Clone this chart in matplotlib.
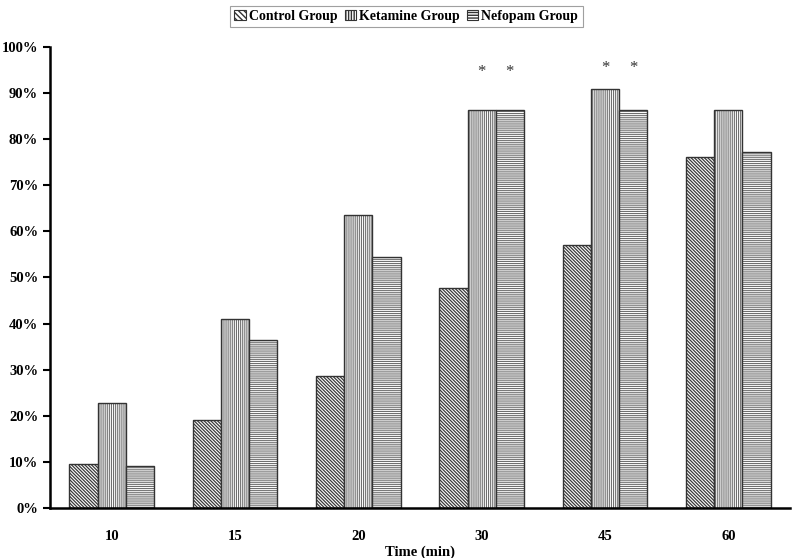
import matplotlib
matplotlib.use("Agg")
import matplotlib.pyplot as plt
import numpy as np

categories = ["10", "15", "20", "30", "45", "60"]
series_names = ["Control Group", "Ketamine Group", "Nefopam Group"]
control = [9.5, 19.0, 28.6, 47.6, 57.1, 76.2]
ketamine = [22.7, 40.9, 63.6, 86.4, 90.9, 86.4]
nefopam = [9.1, 36.4, 54.5, 86.4, 86.4, 77.3]
yticks = [0, 10, 20, 30, 40, 50, 60, 70, 80, 90, 100]
# asterisk annotations: (category index, series index, y)
stars = [(3, 1, 94.5), (3, 2, 94.5), (4, 1, 95.5), (4, 2, 95.5)]

plt.rcParams['font.family'] = ['Liberation Serif', 'DejaVu Serif']

fig = plt.figure(figsize=(8, 5.58), dpi=100)
ax = fig.add_axes([0.0625, 0.0896, 0.925, 0.8265])

x = np.arange(len(categories))
w = 0.228
hatches = ['\\\\\\\\\\\\\\\\\\\\', '||||||||', '--------']
hatch_colors = ['#3a3a3a', '#707070', '#707070']
hatch_lw = [0.9, 0.8, 0.8]
data = [control, ketamine, nefopam]
for i, (vals, name, h) in enumerate(zip(data, series_names, hatches)):
    with plt.rc_context({'hatch.linewidth': hatch_lw[i]}):
        ax.bar(x + (i - 1) * w, vals, width=w, color='white',
               edgecolor=hatch_colors[i], hatch=h, linewidth=0)
    ax.bar(x + (i - 1) * w, vals, width=w, fill=False, edgecolor='#333333',
           linewidth=1.0)

for ci, si, yv in stars:
    ax.text(x[ci] + (si - 1) * w, yv, '*', ha='center', va='center',
            fontsize=12, color='#333333')

ax.set_xlim(-0.5, len(categories) - 0.5)
ax.set_ylim(0, 100)
ax.set_yticks(yticks)
ax.set_yticklabels([f"{v}%" for v in yticks], fontweight='bold', fontsize=10.5)
ax.set_xticks(x)
ax.set_xticklabels(categories, fontweight='bold', fontsize=10.5)
ax.tick_params(axis='x', length=0, pad=16)
ax.tick_params(axis='y', length=5, width=1.5, direction='out')
ax.set_xlabel("Time (min)", fontweight='bold', fontsize=10.5, labelpad=2)
for s in ['top', 'right']:
    ax.spines[s].set_visible(False)
for s in ['left', 'bottom']:
    ax.spines[s].set_linewidth(1.8)

# legend handles built from the hatched bars
from matplotlib.patches import Patch
handles = []
for i, name in enumerate(series_names):
    with plt.rc_context({'hatch.linewidth': 0.7}):
        handles.append(Patch(facecolor='white', edgecolor='#333333',
                             hatch=hatches[i][:6], linewidth=0.8, label=name))
leg = fig.legend(handles=handles, loc='upper center',
                 bbox_to_anchor=(0.508, 0.995), ncol=3,
                 prop={'weight': 'bold', 'size': 10}, frameon=True,
                 fancybox=False, edgecolor='#888888', handlelength=0.8,
                 handleheight=0.8, handletextpad=0.25, columnspacing=0.5,
                 borderpad=0.3, borderaxespad=0.2)
leg.get_frame().set_linewidth(0.8)

fig.savefig("out.png", dpi=100)
